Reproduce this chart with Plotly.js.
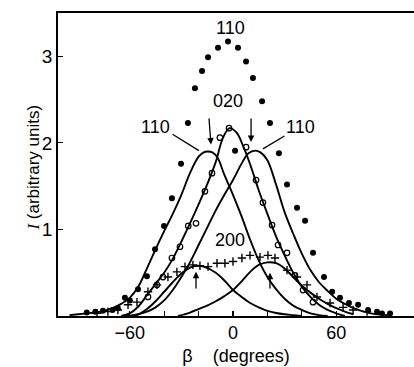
<!DOCTYPE html>
<html>
<head>
<meta charset="utf-8">
<script src="https://cdn.plot.ly/plotly-3.0.1.min.js"></script>
<style>html,body{margin:0;padding:0;background:#fff;}#chart{width:414px;height:367px;}</style>
</head>
<body>
<div id="chart"></div>
<script>
// Fitted component curves (beta in degrees, intensity)
const l110X = [-95,-90,-85,-80,-75,-70,-65,-60,-55,-50,-45,-40,-35,-30,-25,-20,-17,-15,-12,-9,-5,0,5,10,15,20,25,30,35,40,45,50,55];
const l110Y = [0.01,0.02,0.03,0.04,0.06,0.09,0.14,0.21,0.34,0.55,0.77,0.98,1.18,1.40,1.65,1.84,1.89,1.90,1.89,1.83,1.63,1.40,1.15,0.88,0.64,0.45,0.31,0.20,0.12,0.07,0.03,0.01,0];
const r110X = [-60,-55,-50,-45,-40,-35,-30,-25,-20,-15,-10,-5,0,5,9,13,16,20,25,30,35,40,45,50,55,60,65,70,80,90];
const r110Y = [0,0.02,0.05,0.10,0.18,0.30,0.45,0.62,0.82,1.02,1.22,1.40,1.57,1.76,1.88,1.91,1.89,1.80,1.52,1.20,0.95,0.72,0.53,0.39,0.29,0.20,0.14,0.09,0.03,0.01];
const c020X = [-65,-60,-55,-50,-45,-40,-35,-30,-25,-20,-15,-10,-6,-2,2,6,10,15,20,25,30,35,40,45,50,55,60,65];
const c020Y = [0,0.03,0.11,0.24,0.37,0.50,0.66,0.86,1.07,1.29,1.52,1.78,2.05,2.17,2.12,1.96,1.75,1.45,1.18,0.92,0.70,0.50,0.34,0.22,0.13,0.07,0.03,0];
const l200X = [-62,-55,-50,-45,-40,-35,-30,-25,-21,-17,-10,-5,0,5,10,15,20,25,30,35,40];
const l200Y = [0,0.02,0.08,0.17,0.28,0.39,0.49,0.56,0.58,0.57,0.50,0.41,0.30,0.22,0.15,0.10,0.06,0.035,0.02,0.01,0];
const r200X = [-32,-25,-20,-15,-10,-5,0,5,10,15,20,25,30,35,40,45,50,55,60,65,70];
const r200Y = [0,0.04,0.08,0.12,0.17,0.23,0.30,0.40,0.51,0.59,0.62,0.61,0.55,0.45,0.35,0.27,0.20,0.14,0.09,0.05,0.02];

// Measured points: filled dots (110 total)
const dotX = [-2.9,-8.7,2.9,-14.5,7.6,-18.0,11.6,-22.1,16.9,-26.2,21.5,-30.2,26.7,-35.5,31.4,-40.1,37.2,-45.3,41.9,-50.0,46.5,-55.2,52.9,-59.9,57.6,-62.8,62.2,-66.9,67.4,-70,72.7,-75.6,78.5,-80,83.7,-85,86.6,91.3,1.2];
const dotY = [3.17,3.10,3.10,2.99,2.94,2.83,2.75,2.63,2.48,2.23,2.23,1.76,1.88,1.36,1.52,1.04,1.25,0.77,1.10,0.46,0.73,0.31,0.45,0.18,0.28,0.21,0.21,0.09,0.15,0.07,0.13,0.06,0.07,0.05,0.05,0.04,0.03,0.03,1.91];
// open circles (020)
const circX = [-49.4,-44.2,-40.7,-35.5,-30.8,-26,-21.5,-16.3,-12.2,-7.6,-2.3,7.6,13.4,17.4,22.7,26.2,31.4,36,40.7,46.5];
const circY = [0.22,0.36,0.45,0.67,0.80,1.04,1.07,1.44,1.65,2.06,2.17,1.95,1.57,1.31,1.05,0.82,0.73,0.47,0.30,0.16];
// plus signs (200)
const plusX = [-79,-72.7,-66.9,-61,-55.8,-49.4,-44.2,-37.8,-32.6,-27.9,-23.3,-19.2,-14.5,-9.3,-4.7,0,5.2,9.9,15.7,20.3,24.4,31.4,37.2,43,48.8,56.4,64,69.8,77.9];
const plusY = [0.03,0.05,0.07,0.13,0.16,0.28,0.36,0.45,0.51,0.57,0.59,0.58,0.57,0.61,0.61,0.63,0.67,0.70,0.68,0.70,0.67,0.53,0.45,0.36,0.22,0.15,0.10,0.07,0.05];

const FONT = 'Liberation Sans, Arial, sans-serif';
const lineStyle = {color:'#000', width:1.9, shape:'spline', smoothing:1};
function curve(x,y){return {x:x,y:y,mode:'lines',line:lineStyle,hoverinfo:'skip',showlegend:false};}

const data = [
  curve(l110X,l110Y), curve(r110X,r110Y), curve(c020X,c020Y), curve(l200X,l200Y), curve(r200X,r200Y),
  {x:dotX,y:dotY,mode:'markers',marker:{symbol:'circle',size:6,color:'#000'},showlegend:false},
  {x:circX,y:circY,mode:'markers',marker:{symbol:'circle-open',size:5.5,color:'#000',line:{width:1.2,color:'#000'}},showlegend:false},
  {x:plusX,y:plusY,mode:'markers',marker:{symbol:'cross-thin-open',size:6,color:'#000',line:{width:1.4,color:'#000'}},showlegend:false}
];

function label(x,y,t){return {x:x,y:y,xref:'x',yref:'y',text:t,showarrow:false,font:{family:FONT,size:18,color:'#000'}};}
function seg(x0,y0,x1,y1,head){return {x:x1,y:y1,ax:x0,ay:y0,xref:'x',yref:'y',axref:'x',ayref:'y',text:'',showarrow:true,arrowhead:head,arrowsize:1,arrowwidth:1.3,arrowcolor:'#000',standoff:0,startstandoff:0};}

const layout = {
  width:414, height:367,
  margin:{l:58,r:0,t:13,b:51},
  paper_bgcolor:'#fff', plot_bgcolor:'#fff',
  font:{family:FONT,color:'#000'},
  xaxis:{range:[-101.7,105.2],showline:true,linecolor:'#000',linewidth:1.8,mirror:true,
    ticks:'inside',ticklen:5,tickwidth:1.2,tickcolor:'#000',
    tickvals:[-60,-40,-20,0,20,40,60],ticktext:['\u221260','','','0','','','60'],
    tickfont:{family:FONT,size:18,color:'#000'},showgrid:false,zeroline:false,
    title:{text:'\u03b2\u00a0\u00a0\u00a0\u00a0(degrees)',font:{family:FONT,size:18,color:'#000'},standoff:7}},
  yaxis:{range:[0,3.5],showline:true,linecolor:'#000',linewidth:1.8,
    ticks:'inside',ticklen:5,tickwidth:1.2,tickcolor:'#000',
    tickvals:[1,2,3],ticktext:['1','2','3'],
    tickfont:{family:FONT,size:19,color:'#000'},showgrid:false,zeroline:false},
  annotations:[
    {xref:'paper',yref:'paper',x:-0.07,y:0.49,xanchor:'center',yanchor:'middle',textangle:-90,showarrow:false,
     text:'<span style="font-family:Liberation Serif"><i>I</i></span> (arbitrary units)',font:{family:FONT,size:17,color:'#000'}},
    label(-1.7,3.33,'110'),
    label(-2.9,2.48,'020'),
    label(-45.3,2.18,'110'),
    label(39,2.18,'110'),
    label(-1.7,0.88,'200'),
    seg(-36,2.11,-19.8,1.91,0),
    seg(30.8,2.09,17.4,1.93,0),
    seg(-14,2.30,-12.8,1.98,2),
    seg(10.5,2.30,10.5,2.01,2),
    seg(-21.5,0.30,-21.5,0.51,2),
    seg(21.5,0.30,21.5,0.50,2)
  ]
};
Plotly.newPlot('chart',data,layout,{staticPlot:true,displayModeBar:false});
</script>
</body>
</html>
